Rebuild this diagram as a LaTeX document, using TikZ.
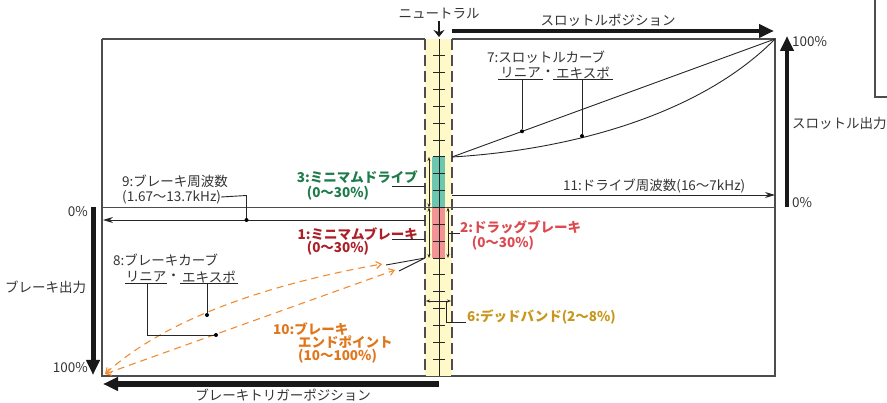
\documentclass[tikz,border=0pt]{standalone}
\usepackage{fontspec}
\setmainfont{Noto Sans CJK JP}
\usetikzlibrary{arrows.meta}
\definecolor{framegray}{HTML}{4D4D4D}
\definecolor{textgray}{HTML}{333333}
\definecolor{stripyellow}{HTML}{FFF8C8}
\definecolor{tealfill}{HTML}{6CC6B0}
\definecolor{pinkfill}{HTML}{F29494}
\definecolor{greentxt}{HTML}{1E7B4B}
\definecolor{darkredtxt}{HTML}{AE1E26}
\definecolor{redtxt}{HTML}{DC4A50}
\definecolor{orangetxt}{HTML}{E0761C}
\definecolor{goldtxt}{HTML}{C8961A}
\definecolor{orangeline}{HTML}{F28A30}
\begin{document}
\begin{tikzpicture}[x=1pt,y=-1pt,
  font=\fontsize{13.5}{15}\selectfont,
  frame/.style={draw=framegray, line width=1.3pt},
  thinline/.style={draw=black!85, line width=0.9pt},
  txt/.style={text=textgray, inner sep=0pt},
  boldlbl/.style={inner sep=0pt, font=\fontsize{13.5}{15}\selectfont\bfseries},
  fatarrow/.style={draw=black!90, line width=5pt, -{Triangle[length=15pt,width=13pt]}},
  thinarrow/.style={draw=black!85, line width=0.9pt, -{Stealth[length=10pt,width=6pt]}},
  smallarrows/.style={draw=black!85, line width=0.6pt, {Stealth[length=4pt,width=3pt]}-{Stealth[length=4pt,width=3pt]}},
  dotnode/.style={circle, fill=black, inner sep=0pt, minimum size=4pt},
  brakecurve/.style={draw=orangeline, line width=1.1pt, dash pattern=on 7pt off 5pt, {Straight Barb[length=5pt,width=7pt]}-{Straight Barb[length=5pt,width=7pt]}},
  ticklines/.style={draw=black!85, line width=0.9pt},
  stripborder/.style={draw=framegray, line width=1.4pt, dash pattern=on 11pt off 5pt}
]
\useasboundingbox (0,0) rectangle (887,403);

% frame coordinates
\coordinate (tl) at (102,39);
\coordinate (tsl) at (425,39);
\coordinate (tsr) at (452,39);
\coordinate (tr) at (775,39);
\coordinate (bl) at (102,376);
\coordinate (br) at (775,376);
\coordinate (ml) at (102,207.5);
\coordinate (mr) at (775,207.5);

% partial frame of neighbouring figure
\coordinate (nb1) at (875,0);
\coordinate (nb2) at (875,97);
\coordinate (nb3) at (887,97);
\draw[draw=framegray, line width=1.2pt] (nb1) -- (nb2) -- (nb3);

% main frame
\draw[frame] (tl) -- (tsl);
\draw[frame] (tsr) -- (tr) -- (br) -- (bl) -- (tl);
\draw[frame] (ml) -- (mr);

% yellow strip
\fill[stripyellow] (425,39) rectangle (452,376);
\fill[tealfill] (432,157) rectangle (445,207.5);
\fill[pinkfill] (432,207.5) rectangle (445,258);
\draw[frame] (425,207.5) -- (452,207.5);
\draw[stripborder] (425,39) -- (425,376);
\draw[stripborder] (452,39) -- (452,376);
\draw[ticklines] (439,39) -- (439,376);
\foreach \k in {1,...,19} {
  \draw[ticklines] (433,{39+16.85*\k}) -- (445,{39+16.85*\k});
}

% range arrows in the strip
\draw[smallarrows] (429,157) -- (429,207.5);
\draw[smallarrows] (429,207.5) -- (429,258);
\draw[smallarrows] (448,207.5) -- (448,258);
\draw[smallarrows] (426,301) -- (451,301);

% neutral
\node[txt] (neutral) at (439,14) {ニュートラル};
\coordinate (nA) at (439,21);
\coordinate (nB) at (439,37);
\draw[draw=black!90, line width=2.6pt, -{Stealth[length=7pt,width=11pt]}] (nA) -- (nB);

% throttle position
\coordinate (tpA) at (452,31);
\coordinate (tpB) at (774,31);
\draw[fatarrow, line width=4.5pt] (tpA) -- (tpB);
\node[txt] (tplbl) at (608,20) {スロットルポジション};

% throttle output
\coordinate (toA) at (787,207);
\coordinate (toB) at (787,36);
\draw[fatarrow, line width=4.5pt] (toA) -- (toB);
\node[txt, anchor=west] (t100) at (792,42) {100\%};
\node[txt, anchor=west] (toutlbl) at (792,123) {スロットル出力};
\node[txt, anchor=west] (t0) at (792,203) {0\%};

% brake output
\coordinate (boA) at (93,207);
\coordinate (boB) at (93,375);
\draw[fatarrow] (boA) -- (boB);
\node[txt, anchor=east] (b0) at (88,212) {0\%};
\node[txt, anchor=west] (boutlbl) at (5,287) {ブレーキ出力};
\node[txt, anchor=east] (b100) at (88,368) {100\%};

% brake trigger position
\coordinate (btA) at (439,384);
\coordinate (btB) at (103,384);
\draw[fatarrow, line width=5.5pt] (btA) -- (btB);
\node[txt] (btlbl) at (283,395) {ブレーキトリガーポジション};

% throttle curves
\coordinate (tcs) at (452,157);
\draw[thinline] (tcs) -- (tr);
\draw[thinline] (tcs) .. controls (570,150) and (700,115) .. (tr);
\node[dotnode] (d7a) at (522,131.3) {};
\node[dotnode] (d7b) at (582,136) {};
\node[txt, anchor=west] (lbl7) at (487,57) {7:スロットルカーブ};
\node[txt] (lin7) at (520.5,73) {リニア};
\node[txt] (dot7) at (548,73) {・};
\node[txt] (exp7) at (583,73) {エキスポ};
\draw[thinline] (498,79.5) -- (543,79.5);
\draw[thinline] (553,79.5) -- (613,79.5);
\coordinate (u7a) at (522,79.5);
\coordinate (u7b) at (582,79.5);
\draw[thinline] (u7a) -- (d7a);
\draw[thinline] (u7b) -- (d7b);

% drive frequency
\coordinate (dfA) at (452,195);
\coordinate (dfB) at (775,195);
\draw[thinarrow] (dfA) -- (dfB);
\node[txt, anchor=west] (lbl11) at (563,186) {11:ドライブ周波数(16〜7kHz)};

% brake frequency
\coordinate (bfA) at (425,220);
\coordinate (bfB) at (103,220);
\draw[thinarrow] (bfA) -- (bfB);
\node[txt, anchor=west] (lbl9a) at (122,181) {9:ブレーキ周波数};
\node[txt, anchor=west] (lbl9b) at (122,197) {(1.67〜13.7kHz)};
\node[dotnode] (d9) at (246.5,220) {};
\draw[thinline] (lbl9b.east) -- (246.5,195.5) -- (d9);

% minimum drive
\node[boldlbl, text=greentxt, anchor=east] (lbl3a) at (418,177) {3:ミニマムドライブ};
\node[boldlbl, text=greentxt] (lbl3b) at (338,193) {(0〜30\%)};
\coordinate (u3a) at (392,186.5);
\coordinate (u3b) at (425,186.5);
\draw[thinline] (u3a) -- (u3b);

% minimum brake
\node[boldlbl, text=darkredtxt, anchor=east] (lbl1a) at (418,234) {1:ミニマムブレーキ};
\node[boldlbl, text=darkredtxt] (lbl1b) at (338,248) {(0〜30\%)};
\coordinate (u1a) at (392,239);
\coordinate (u1b) at (425,239);
\draw[thinline] (u1a) -- (u1b);

% drag brake
\node[boldlbl, text=redtxt, anchor=west] (lbl2a) at (460,227) {2:ドラッグブレーキ};
\node[boldlbl, text=redtxt] (lbl2b) at (503,243) {(0〜30\%)};
\coordinate (u2a) at (448,233.5);
\draw[thinline] (u2a) -- (lbl2a.south west |- u2a);

% brake curves
\coordinate (bcs) at (105,374);
\coordinate (bce) at (382,264);
\coordinate (bcl) at (395,270);
\draw[brakecurve] (bcs) .. controls (170,315) and (280,282) .. (bce);
\draw[brakecurve] (bcs) -- (bcl);
\coordinate (bjoin) at (425,258);
\coordinate (bce2) at (386,265);
\coordinate (bcl2) at (399,271);
\draw[thinline] (bjoin) -- (bce2);
\draw[thinline] (bjoin) -- (bcl2);

% brake curve labels
\node[txt, anchor=west] (lbl8) at (113,260) {8:ブレーキカーブ};
\node[txt] (lin8) at (146,277) {リニア};
\node[txt] (dot8) at (173.5,277) {・};
\node[txt] (exp8) at (209,277) {エキスポ};
\draw[thinline] (125,283) -- (167,283);
\draw[thinline] (180,283) -- (238,283);
\node[dotnode] (d8a) at (207,315) {};
\node[dotnode] (d8b) at (216,335) {};
\coordinate (u8a) at (147,283);
\coordinate (u8b) at (207,283);
\draw[thinline] (u8a) -- (147,335) -- (d8b);
\draw[thinline] (u8b) -- (d8a);

% brake endpoint
\node[boldlbl, text=orangetxt, anchor=west] (lbl10a) at (273,329) {10:ブレーキ};
\node[boldlbl, text=orangetxt, anchor=west] (lbl10b) at (298,342) {エンドポイント};
\node[boldlbl, text=orangetxt, anchor=west] (lbl10c) at (298,356) {(10〜100\%)};

% dead band
\node[boldlbl, text=goldtxt, anchor=west] (lbl6) at (467,317) {6:デッドバンド(2〜8\%)};
\coordinate (dbA) at (446,301);
\draw[thinline] (dbA) -- (446,322) -- (466,322);
\end{tikzpicture}
\end{document}
